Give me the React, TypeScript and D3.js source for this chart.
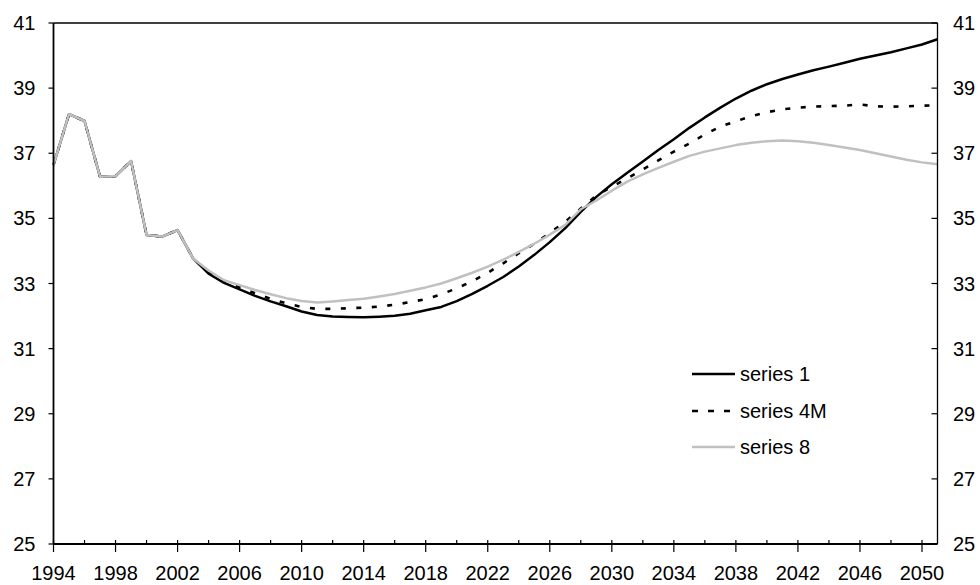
import React from "react";
import * as d3 from "d3";

const years: number[] = d3.range(1994, 2052);

const history: number[] = [36.64, 38.2, 37.99, 36.28, 36.3, 36.76, 34.49, 34.44, 34.64, 33.77];

const series1Proj: number[] = [
  33.3, 33.02, 32.82, 32.62, 32.45, 32.3, 32.14, 32.03, 31.99, 31.97,
  31.96, 31.98, 32.01, 32.07, 32.18, 32.28, 32.46, 32.68, 32.93, 33.2,
  33.52, 33.88, 34.27, 34.7, 35.2, 35.66, 36.05, 36.4, 36.75, 37.1,
  37.43, 37.78, 38.1, 38.4, 38.68, 38.92, 39.12, 39.28, 39.42, 39.55,
  39.66, 39.78, 39.9, 40.0, 40.1, 40.22, 40.34, 40.5,
];

const series4MProj: number[] = [
  33.35, 33.07, 32.88, 32.7, 32.53, 32.39, 32.28, 32.22, 32.22, 32.24,
  32.26, 32.29, 32.35, 32.43, 32.52, 32.67, 32.85, 33.07, 33.33, 33.62,
  33.93, 34.22, 34.55, 34.9, 35.3, 35.7, 35.97, 36.23, 36.5, 36.78,
  37.05, 37.3, 37.58, 37.82, 37.98, 38.14, 38.26, 38.35, 38.4, 38.43,
  38.45, 38.46, 38.5, 38.44, 38.43, 38.44, 38.46, 38.47,
];

const series8Proj: number[] = [
  33.4, 33.1, 32.95, 32.8, 32.67, 32.55, 32.46, 32.42, 32.45, 32.49,
  32.53, 32.6, 32.68, 32.78, 32.88, 33.0, 33.16, 33.33, 33.52, 33.73,
  33.97, 34.22, 34.5, 34.8, 35.28, 35.55, 35.85, 36.13, 36.35, 36.55,
  36.74, 36.92, 37.05, 37.15, 37.25, 37.32, 37.37, 37.39, 37.37, 37.32,
  37.25, 37.18, 37.1, 37.0, 36.9, 36.8, 36.72, 36.66,
];

const seriesNames: string[] = ["series 1", "series 4M", "series 8"];
const yTicks: number[] = [25, 27, 29, 31, 33, 35, 37, 39, 41];
const xLabelYears: number[] = d3.range(1994, 2051, 4);
const xMinorYears: number[] = d3.range(1994, 2052, 2);

const FONT = "'Liberation Sans', Arial, sans-serif";

export default function App() {
  const W = 980, H = 585;
  const left = 53.5, right = 937.5, top = 23, bottom = 544;
  const x = d3.scaleLinear().domain([1994, 2051]).range([left, right]);
  const y = d3.scaleLinear().domain([25, 41]).range([bottom, top]);

  const all = [
    history.concat(series1Proj),
    history.concat(series4MProj),
    history.concat(series8Proj),
  ];
  const line = d3
    .line<number>()
    .x((_, i) => x(years[i]))
    .y((d) => y(d));

  const styles = [
    { stroke: "#000", dash: undefined as string | undefined, width: 2.5 },
    { stroke: "#000", dash: "5,10.5", width: 2.6 },
    { stroke: "#c0c0c0", dash: undefined as string | undefined, width: 2.5 },
  ];
  const legendY = [374, 411, 447];

  return (
    <svg
      width={W}
      height={H}
      style={{ position: "absolute", left: 0, top: 0, background: "#fff" }}
      fontFamily={FONT}
    >
      <rect x={0} y={0} width={W} height={H} fill="#fff" />
      {[0, 1, 2].map((k) => (
        <path
          key={k}
          d={line(all[k]) || ""}
          fill="none"
          stroke={styles[k].stroke}
          strokeWidth={styles[k].width}
          strokeDasharray={styles[k].dash}
          strokeLinejoin="round"
        />
      ))}
      <line x1={left} x2={right} y1={top} y2={top} stroke="#000" strokeWidth={1.3} />
      <line x1={right} x2={right} y1={top} y2={bottom} stroke="#000" strokeWidth={1.3} />
      <line x1={left} x2={left} y1={top} y2={bottom} stroke="#000" strokeWidth={1.8} />
      <line x1={left} x2={right} y1={bottom} y2={bottom} stroke="#000" strokeWidth={2} />
      {yTicks.map((t) => (
        <g key={t}>
          <line x1={left - 5} x2={left} y1={y(t)} y2={y(t)} stroke="#000" strokeWidth={1.2} />
          <line x1={right - 6} x2={right} y1={y(t)} y2={y(t)} stroke="#000" strokeWidth={1.2} />
          <text x={35.5} y={y(t)} textAnchor="end" dominantBaseline="central" fontSize={20} fill="#000">
            {t}
          </text>
          <text x={953} y={y(t)} textAnchor="start" dominantBaseline="central" fontSize={20} fill="#000">
            {t}
          </text>
        </g>
      ))}
      {xMinorYears.map((yr) => {
        const major = (yr - 1994) % 4 === 0;
        return (
          <line
            key={yr}
            x1={x(yr)}
            x2={x(yr)}
            y1={bottom - 4}
            y2={major ? bottom + 8 : bottom}
            stroke="#000"
            strokeWidth={1.2}
          />
        );
      })}
      {xLabelYears.map((yr) => (
        <text key={yr} x={x(yr)} y={580} textAnchor="middle" fontSize={20} fill="#000">
          {yr}
        </text>
      ))}
      {seriesNames.map((name, k) => (
        <g key={name}>
          <line
            x1={692}
            x2={735}
            y1={legendY[k]}
            y2={legendY[k]}
            stroke={styles[k].stroke}
            strokeWidth={styles[k].width}
            strokeDasharray={k === 1 ? "6,10" : undefined}
          />
          <text x={740} y={legendY[k]} dominantBaseline="central" fontSize={20} fill="#000">
            {name}
          </text>
        </g>
      ))}
    </svg>
  );
}
